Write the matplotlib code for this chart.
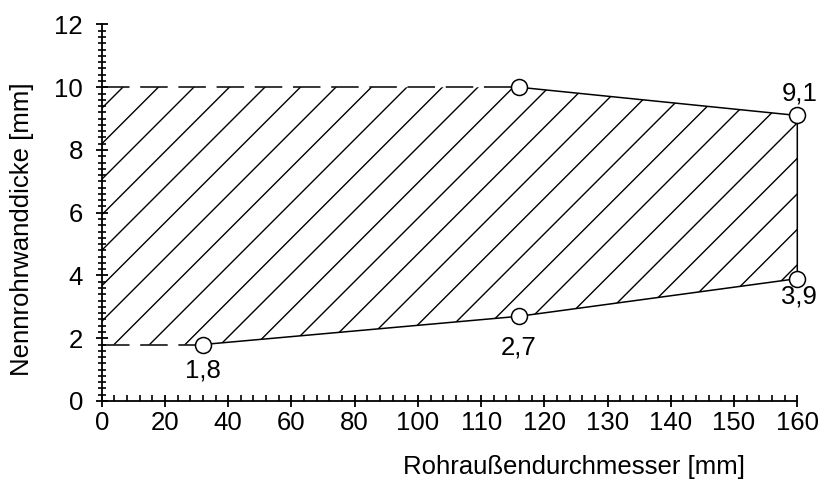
import numpy as np
import matplotlib
matplotlib.use('Agg')
import matplotlib.pyplot as plt
from matplotlib.patches import Polygon
from matplotlib.lines import Line2D

plt.rcParams['font.family'] = ['Liberation Sans', 'DejaVu Sans']

# corner points of the region (outer diameter [mm], wall thickness [mm])
d_pts = [32, 116, 160, 160, 116]
s_pts = [1.8, 2.7, 3.9, 9.1, 10.0]
s_min = 1.8
s_max = 10.0
x_ticks = [0, 20, 40, 60, 80, 100, 110, 120, 130, 140, 150, 160]


# axis is stretched above 100 mm (10 mm per major step instead of 20)
def fwd(x):
    x = np.asarray(x, dtype=float)
    return np.where(x <= 100, x, 100 + 2 * (x - 100))


def inv(x):
    x = np.asarray(x, dtype=float)
    return np.where(x <= 100, x, 100 + (x - 100) / 2)


fig = plt.figure(figsize=(8.19, 4.87), dpi=100)
ax = fig.add_axes([0.1242, 0.1766, 0.8493, 0.7731])
ax.set_xscale('function', functions=(fwd, inv))
ax.set_xlim(0, 160)
ax.set_ylim(0, 12)

# hatched area
poly_x = [0, d_pts[0]] + d_pts[1:] + [0]
poly_y = [s_min, s_pts[0]] + s_pts[1:] + [s_max]
poly = Polygon(np.column_stack([poly_x, poly_y]), closed=True,
               facecolor='none', edgecolor='none', transform=ax.transData)
ax.add_patch(poly)

# 45 deg hatch lines (in pixel space), clipped to the polygon
aspect = 695.6 / 376.5
step = 0.0943
for k in range(-25, 10):
    y0 = 0.683 + k * step
    ln = Line2D([0, 1], [y0, y0 + aspect], transform=ax.transAxes,
                color='black', lw=1.0)
    ax.add_line(ln)
    ln.set_clip_path(poly)

# dashed limits on the left
ax.plot([0, d_pts[1]], [s_max, s_max], color='black', lw=1.1,
        dashes=(18, 7), clip_on=False)
ax.plot([0, d_pts[0]], [s_min, s_min], color='black', lw=1.1,
        dashes=(18, 7), clip_on=False)

# solid outline
ax.plot(d_pts, s_pts, color='black', lw=1.1, clip_on=False, zorder=3)
ax.plot(d_pts, s_pts, 'o', ms=11.5, mfc='white', mec='black', mew=1.1,
        clip_on=False, zorder=4)

fs = 18.5
ax.annotate('1,8', (d_pts[0], s_pts[0]), xytext=(0, -10), textcoords='offset points',
            ha='center', va='top', fontsize=fs)
ax.annotate('2,7', (d_pts[1], s_pts[1]), xytext=(0, -14), textcoords='offset points',
            ha='center', va='top', fontsize=fs)
ax.annotate('3,9', (d_pts[2], s_pts[2]), xytext=(1, -4), textcoords='offset points',
            ha='center', va='top', fontsize=fs)
ax.annotate('9,1', (d_pts[3], s_pts[3]), xytext=(2, 7), textcoords='offset points',
            ha='center', va='bottom', fontsize=fs)

ax.spines['top'].set_visible(False)
ax.spines['right'].set_visible(False)
ax.spines['left'].set_linewidth(1.3)
ax.spines['bottom'].set_linewidth(1.3)

ax.set_xticks(x_ticks)
ax.set_xticklabels([str(t) for t in x_ticks])
ax.set_xticks(list(np.arange(0, 100, 4)) + list(np.arange(100, 161, 2)), minor=True)
ax.set_yticks(np.arange(0, 13, 2))
ax.set_yticks(np.arange(0, 12.01, 0.2), minor=True)

ax.tick_params(axis='both', which='major', direction='inout', length=9,
               width=1.3, labelsize=fs)
ax.tick_params(axis='x', which='major', pad=3)
ax.tick_params(axis='y', which='major', pad=9)
ax.tick_params(axis='x', which='minor', direction='in', length=4, width=1.2)
ax.tick_params(axis='y', which='minor', direction='inout', length=6, width=1.2)

ax.set_xlabel('Rohraußendurchmesser [mm]', fontsize=fs, ha='right', va='top')
ax.xaxis.set_label_coords(0.925, -0.143)
ax.set_ylabel('Nennrohrwanddicke [mm]', fontsize=fs)
ax.yaxis.set_label_coords(-0.098, 0.457)

fig.savefig('out.png', dpi=100)
